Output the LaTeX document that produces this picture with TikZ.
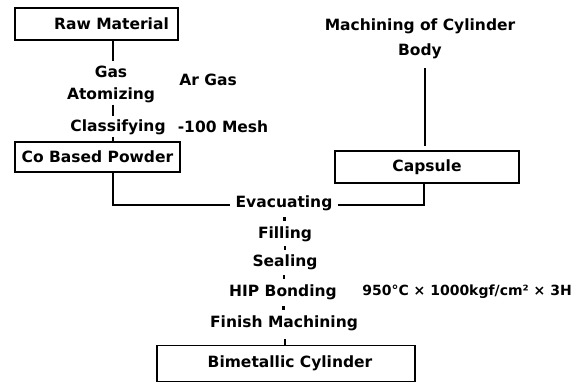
\documentclass[tikz,border=0pt]{standalone}
\usepackage{fontspec}
\setmainfont{DejaVu Sans}
\begin{document}
\begin{tikzpicture}[x=1pt,y=-1pt,
  every node/.style={font=\bfseries\fontsize{15.5}{19}\selectfont, inner sep=1pt},
  box/.style={draw, line width=1.6pt, rectangle, inner sep=0pt},
  conn/.style={line width=2pt},
  lbl/.style={align=center},
  dotmark/.style={fill=black, rectangle, minimum width=2.6pt, minimum height=4pt, inner sep=0pt}]
\useasboundingbox (0,0) rectangle (586,383);
% boxes
\node[box, minimum width=163pt, minimum height=32pt] (raw) at (96.5,24) {\hspace*{30pt}Raw Material};
\node[box, minimum width=165pt, minimum height=30pt] (co) at (97.5,157) {Co Based Powder};
\node[box, minimum width=184pt, minimum height=32pt] (cap) at (427,167) {Capsule};
\node[box, minimum width=258pt, minimum height=36pt] (bim) at (286,363.5) {\hspace*{8pt}Bimetallic Cylinder};
% labels
\node[lbl] (gas) at (111,84) {Gas\\[3pt]Atomizing};
\node (ar) at (208,80) {Ar Gas};
\node (cls) at (118,127) {Classifying};
\node (mesh) at (223,127) {-100 Mesh};
\node[lbl] (mach) at (420,39) {Machining of Cylinder\\[6pt]Body};
\node (evac) at (284,203) {Evacuating};
\node (fill) at (285,234) {Filling};
\node (seal) at (285,262) {Sealing};
\node (hip) at (283,292) {HIP Bonding};
\node[font=\bfseries\fontsize{14}{16}\selectfont] (cond) at (467,292) {950°C × 1000kgf/cm² × 3H};
\node (fin) at (284,323) {Finish Machining};
% connectors left column
\draw[conn] (raw.south -| 113,0) -- ([yshift=3pt]gas.north -| 113,0);
\draw[conn] ([yshift=-1pt]gas.south -| 113,0) -- ([yshift=2pt]cls.north -| 113,0);
\draw[conn] ([yshift=-1pt]cls.south -| 113,0) -- (co.north -| 113,0);
\draw[conn] (co.south -| 113,0) |- ([xshift=-4pt,yshift=-2pt]evac.west);
% right column
\draw[conn] ([yshift=-8pt]mach.south -| 425,0) -- ([yshift=4pt]cap.north -| 425,0);
\draw[conn] ([xshift=4pt,yshift=-2pt]evac.east) -| (cap.south -| 424,0);
% dots
\path (evac) -- node[dotmark] (d1) {} (fill);
\path (fill) -- node[dotmark] (d2) {} (seal);
\path (seal) -- node[dotmark] (d3) {} (hip);
\path (hip) -- node[dotmark] (d4) {} (fin);
\draw[conn] (bim.north -| 285,0) -- ++(0,-6);
\end{tikzpicture}
\end{document}
